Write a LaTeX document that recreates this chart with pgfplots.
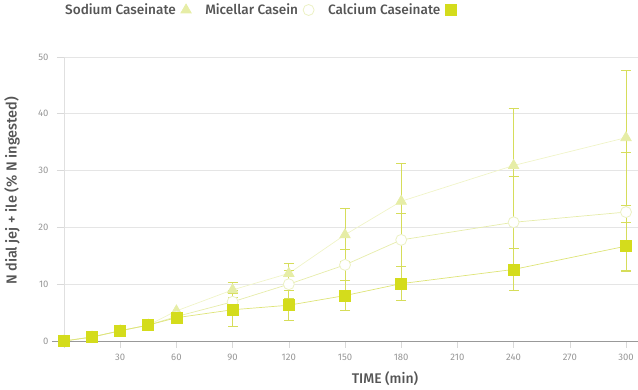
\documentclass[border=0pt]{standalone}
\usepackage{fontspec}
\setmainfont{Fira Sans}
\newfontfamily\medfont{Fira Sans}[UprightFont={* Medium}]
\usepackage{pgfplots}
\pgfplotsset{compat=1.18}
\definecolor{sqfill}{RGB}{212,220,28}
\definecolor{sqline}{RGB}{222,228,120}
\definecolor{trifill}{RGB}{230,237,166}
\definecolor{triline}{RGB}{240,244,200}
\definecolor{circdraw}{RGB}{236,241,196}
\definecolor{circline}{RGB}{230,236,170}
\definecolor{errcol}{RGB}{214,221,90}
\definecolor{txt}{RGB}{85,85,85}
\definecolor{ticktxt}{RGB}{150,150,150}
\begin{document}
\begin{tikzpicture}
\path[use as bounding box] (-64pt,-49pt) rectangle (574pt,341pt);
\begin{axis}[
  scale only axis,
  width=574pt, height=284pt,
  xmin=0, xmax=306.4, ymin=0, ymax=50,
  xtick={0,30,...,300},
  xticklabels={,30,60,90,120,150,180,210,240,270,300},
  ytick={0,10,...,50},
  /pgf/number format/assume math mode=true,
  axis line style={draw=none},
  ymajorgrids,
  grid style={draw=black!10, line width=0.6pt},
  tick style={draw=black!15, line width=0.6pt},
  tick align=outside,
  xtick pos=bottom, ytick pos=left,
  major tick length=7pt,
  ticklabel style={font=\fontsize{9.5}{10}\selectfont, text=ticktxt},
  xticklabel style={yshift=-3pt},
  yticklabel style={xshift=-5pt},
  xlabel={TIME (min)},
  ylabel={N dial jej + ile (\% N ingested)},
  every axis x label/.style={at={(rel axis cs:0,0)}, anchor=center, xshift=321pt, yshift=-38pt,
     font=\medfont\fontsize{14}{15}\selectfont, text=txt},
  every axis y label/.style={at={(rel axis cs:0,0.5)}, xshift=-52pt, yshift=8pt, rotate=90, anchor=center,
     font=\medfont\fontsize{14.5}{15}\selectfont, text=txt},
  legend plot pos=right,
  legend columns=3,
  legend style={draw=none, fill=none, at={(rel axis cs:0,1)}, anchor=west, xshift=-4pt, yshift=47pt,
    font=\medfont\fontsize{13.6}{15}\selectfont, text=txt,
    /tikz/every odd column/.append style={column sep=3pt},
    /tikz/every even column/.append style={column sep=12pt}},
  legend image code/.code={\draw[#1] plot coordinates {(0.22cm,0cm)};},
  clip=false,
]
\addplot[forget plot, draw=black!40, line width=0.8pt] coordinates {(-6.4,0) (306.4,0)};
\addplot[forget plot, draw=black!12, line width=0.6pt] coordinates {(0,0) (0,50)};
% Sodium Caseinate
\addplot[triline, line width=0.7pt, mark=triangle*, mark size=6pt, mark options={fill=trifill, draw=trifill},
  error bars/.cd, y dir=both, y explicit,
  error bar style={draw=errcol, line width=0.7pt},
  error mark options={rotate=90, mark size=5pt, draw=errcol, line width=0.7pt}]
  coordinates {
  (0,0) (15,0.7) (30,1.8) (45,2.8) (60,5.3)
  (90,9.0) +- (0,1.3) (120,11.9) +- (0,1.7) (150,18.7) +- (0,4.6)
  (180,24.6) +- (0,6.6) (240,30.9) +- (0,10.1) (300,35.8) +- (0,11.9)};
\addlegendentry{Sodium Caseinate}
% Micellar Casein
\addplot[circline, line width=0.7pt, mark=*, mark size=5.5pt, mark options={fill=white, draw=circdraw, line width=0.8pt},
  error bars/.cd, y dir=both, y explicit,
  error bar style={draw=errcol, line width=0.7pt},
  error mark options={rotate=90, mark size=5pt, draw=errcol, line width=0.7pt}]
  coordinates {
  (0,0) (15,0.7) (30,1.8) (45,2.8) (60,4.3)
  (90,6.9) +- (0,2.0) (120,10.0) +- (0,2.5) (150,13.4) +- (0,2.8)
  (180,17.8) +- (0,4.7) (240,20.9) +- (0,8.1) (300,22.7) +- (0,10.5)};
\addlegendentry{Micellar Casein}
% Calcium Caseinate
\addplot[sqline, line width=0.7pt, mark=square*, mark size=5.5pt, mark options={fill=sqfill, draw=sqfill},
  error bars/.cd, y dir=both, y explicit,
  error bar style={draw=errcol, line width=0.7pt},
  error mark options={rotate=90, mark size=5pt, draw=errcol, line width=0.7pt}]
  coordinates {
  (0,0) (15,0.7) (30,1.8) (45,2.8) (60,4.1)
  (90,5.5) +- (0,2.9) (120,6.3) +- (0,2.7) (150,8.0) +- (0,2.6)
  (180,10.1) +- (0,3.0) (240,12.6) +- (0,3.7) (300,16.7) +- (0,4.2)};
\addlegendentry{Calcium Caseinate}
\end{axis}
\end{tikzpicture}
\end{document}
